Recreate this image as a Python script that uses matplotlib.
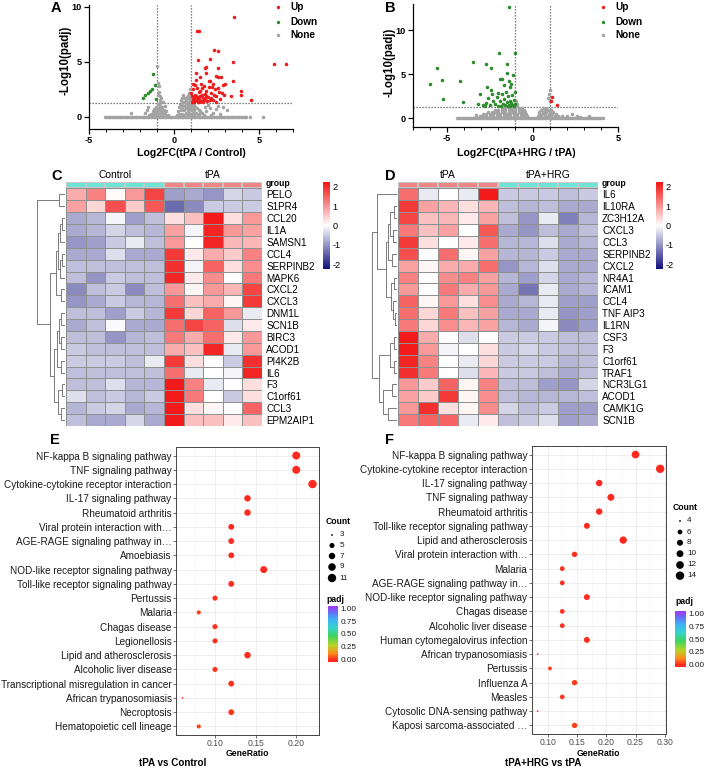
import numpy as np
import matplotlib
matplotlib.use('Agg')
import matplotlib.pyplot as plt
from matplotlib.colors import LinearSegmentedColormap, ListedColormap
from matplotlib.ticker import MultipleLocator

plt.rcParams['font.family'] = ['Liberation Sans', 'DejaVu Sans']
plt.rcParams['axes.unicode_minus'] = False

# ======================= DATA =======================
# ---- Panel A volcano (log2FC, -log10 padj) ----
a_up = [(3.53, 9.06), (1.33, 7.8), (1.49, 7.8), (2.35, 6.09), (2.59, 6.0), (1.41, 5.18), (2.12, 5.27),
        (3.45, 5.0), (5.86, 4.79), (6.57, 4.79), (1.80, 4.42), (1.88, 4.5), (2.59, 4.42), (1.27, 3.97),
        (1.88, 4.0), (2.47, 3.7), (2.59, 3.65), (2.76, 3.6), (3.49, 3.3), (1.29, 3.4), (1.55, 3.6),
        (2.05, 3.3), (2.9, 2.9), (3.96, 2.4), (3.94, 2.0), (3.35, 1.9), (4.55, 1.55), (2.1, 3.3),
        (2.3, 3.0), (3.0, 3.0), (1.05, 1.4), (1.1, 1.6), (1.15, 1.8), (1.2, 1.45), (1.25, 2.0),
        (1.3, 1.55), (1.35, 1.7), (1.4, 1.4), (1.45, 2.3), (1.5, 1.6), (1.55, 1.9), (1.6, 1.45),
        (1.65, 2.6), (1.7, 1.7), (1.75, 1.5), (1.8, 2.1), (1.85, 1.6), (1.9, 2.4), (1.95, 1.45),
        (2.0, 1.8), (2.05, 2.7), (2.1, 1.55), (2.15, 2.2), (2.2, 1.7), (2.25, 2.7), (2.3, 1.5),
        (2.4, 2.5), (2.5, 1.9), (2.6, 2.6), (2.7, 1.6), (2.8, 2.2), (1.12, 2.5), (1.22, 2.9),
        (1.38, 2.6), (1.58, 3.0), (1.75, 2.8), (1.05, 1.9), (1.18, 1.35), (1.32, 1.9), (1.48, 1.35),
        (1.62, 2.0), (1.02, 2.2), (1.28, 1.5), (1.42, 1.85), (1.68, 1.38), (1.88, 1.9), (2.35, 2.0),
        (2.45, 1.4), (2.65, 2.3), (1.1, 3.0), (1.52, 2.4), (2.95, 2.0)]
a_down = [(-1.22, 3.9), (-1.31, 2.5), (-1.41, 2.4), (-1.51, 2.15), (-1.69, 2.0), (-1.82, 1.7),
          (-1.12, 2.9), (-1.05, 1.6)]
a_none_band_x = [-4.05, -3.95, -3.85, -3.75, -3.65, -3.55, -3.45, -3.35, -3.25, -3.15, -3.05, -2.95,
                 -2.85, -2.75, -2.65, -2.55, -2.45, -2.35, -2.25, -2.15, -2.05, -1.95, -1.85, -1.75,
                 -1.65, -1.55, -1.45, -1.35, -1.25, -1.15, -1.05, -0.95, -0.85, -0.75, -0.65, -0.55,
                 -0.45, -0.35, -0.25, -0.15, -0.05, 0.05, 0.15, 0.25, 0.35, 0.45, 0.55, 0.65, 0.75,
                 0.85, 0.95, 1.05, 1.15, 1.25, 1.35, 1.45, 1.55, 1.65, 1.75, 1.85, 1.95, 2.05, 2.15,
                 2.25, 2.35, 2.45, 2.55, 2.65, 2.75, 2.85, 2.95, 3.05, 3.15, 3.25, 3.35, 3.45, 3.55,
                 3.65, 3.75, 3.85, 3.95, 4.05, 4.15, 4.25, 4.5, 5.25]
a_none = [(-1.45, 0.15), (-1.35, 0.3), (-1.25, 0.5), (-1.15, 0.7), (-1.05, 0.9), (-0.95, 1.2),
          (-0.85, 1.5), (-0.75, 1.7), (-0.65, 1.4), (-0.55, 1.0), (-0.45, 0.5), (-0.38, 0.2),
          (-1.3, 0.15), (-1.2, 0.3), (-1.1, 0.45), (-1.0, 0.6), (-0.9, 0.8), (-0.8, 1.0), (-0.7, 0.9),
          (-0.6, 0.6), (-0.5, 0.3), (-1.1, 0.15), (-0.95, 0.3), (-0.85, 0.5), (-0.75, 0.65),
          (-0.65, 0.4), (-0.55, 0.15), (-0.8, 1.25), (-0.9, 0.15), (-0.7, 0.2), (-1.0, 0.35),
          (-0.75, 0.35), (-1.0, 4.6), (-0.97, 3.1), (-0.9, 2.8), (-0.88, 2.3), (-0.95, 2.0),
          (-0.85, 1.9), (-1.6, 0.6), (-1.7, 0.35), (-1.55, 0.9), (-2.55, 0.33),
          (0.2, 0.2), (0.25, 0.5), (0.3, 0.9), (0.35, 1.2), (0.4, 1.5), (0.45, 1.7), (0.55, 1.8),
          (0.65, 1.75), (0.75, 1.8), (0.85, 1.7), (0.95, 1.5), (1.05, 1.3), (1.15, 1.1), (1.25, 0.9),
          (1.35, 0.8), (1.45, 0.6), (1.55, 0.5), (1.65, 0.35), (1.75, 0.2), (0.3, 0.3), (0.4, 0.6),
          (0.4, 1.0), (0.5, 0.3), (0.5, 0.7), (0.5, 1.1), (0.5, 1.4), (0.6, 0.2), (0.6, 0.6),
          (0.6, 1.0), (0.6, 1.4), (0.7, 0.4), (0.7, 0.8), (0.7, 1.2), (0.7, 1.5), (0.8, 0.2),
          (0.8, 0.6), (0.8, 1.0), (0.8, 1.4), (0.9, 0.4), (0.9, 0.8), (0.9, 1.2), (1.0, 0.2),
          (1.0, 0.6), (1.0, 1.0), (1.1, 0.4), (1.1, 0.8), (1.2, 0.2), (1.2, 0.6), (1.3, 0.4),
          (1.4, 0.2), (1.5, 0.3), (1.9, 0.5), (2.1, 0.8), (2.3, 0.4), (2.5, 0.7), (2.7, 0.3),
          (2.9, 0.9), (1.8, 0.9), (2.0, 1.1), (2.2, 0.2), (2.6, 1.0), (3.1, 0.6), (0.95, 2.5),
          (0.88, 2.1), (0.97, 1.8), (0.8, 1.9), (0.9, 2.2), (0.55, 2.0)]

# ---- Panel B volcano ----
b_up = [(1.11, 2.42), (1.44, 1.55), (1.08, 2.0)]
b_down = [(-1.40, 12.6), (-1.97, 7.35), (-1.03, 7.35), (-3.47, 6.33), (-2.75, 6.2), (-1.48, 6.2),
          (-5.61, 5.64), (-2.42, 5.64), (-1.52, 5.07), (-5.28, 4.32), (-4.27, 4.27), (-6.0, 3.86),
          (-1.9, 4.5), (-1.8, 4.5), (-1.37, 4.2), (-5.24, 2.12), (-4.07, 1.86), (-3.1, 2.8),
          (-2.69, 3.56), (-2.46, 3.2), (-2.9, 1.5), (-2.7, 1.7), (-2.5, 1.45), (-2.3, 2.0),
          (-2.2, 1.6), (-2.1, 2.4), (-2.0, 1.4), (-1.9, 1.9), (-1.8, 2.7), (-1.75, 1.6), (-1.7, 2.2),
          (-1.6, 1.45), (-1.55, 3.0), (-1.5, 1.8), (-1.45, 2.5), (-1.4, 1.5), (-1.35, 2.0),
          (-1.3, 3.5), (-1.25, 1.7), (-1.2, 2.6), (-1.15, 1.45), (-1.1, 2.1), (-1.05, 1.6),
          (-1.02, 3.0), (-2.6, 2.3), (-2.4, 2.8), (-1.65, 3.8), (-1.25, 3.9), (-1.15, 4.9),
          (-2.0, 2.9), (-2.8, 1.4), (-3.2, 1.6), (-1.85, 1.4), (-1.1, 1.35), (-1.3, 1.4), (-1.45, 1.35)]
b_none_band_x = [-4.4, -4.3, -4.2, -4.1, -4.0, -3.9, -3.8, -3.7, -3.6, -3.5, -3.4, -3.3, -3.2, -3.1,
                 -3.0, -2.9, -2.8, -2.7, -2.6, -2.5, -2.4, -2.3, -2.2, -2.1, -2.0, -1.9, -1.8, -1.7,
                 -1.6, -1.5, -1.4, -1.3, -1.2, -1.1, -1.0, -0.9, -0.8, -0.7, -0.6, -0.5, -0.4, -0.3,
                 -0.2, -0.1, 0.0, 0.1, 0.2, 0.3, 0.4, 0.5, 0.6, 0.7, 0.8, 0.9, 1.0, 1.1, 1.2, 1.3,
                 1.4, 1.5, 1.6, 1.7, 1.8, 1.9, 2.0, 2.1, 2.2, 2.3, 2.4, 2.5, 2.6, 2.7, 2.8, 2.9, 3.0,
                 3.1, 3.2, 3.3, 3.4, 3.5, 3.6, 3.7, 3.8, 3.9, 4.0, 4.15]
b_none = [(-3.1, 0.2), (-2.9, 0.2), (-2.7, 0.2), (-2.5, 0.2), (-2.3, 0.2), (-2.1, 0.2), (-1.9, 0.2),
          (-1.7, 0.2), (-1.5, 0.2), (-1.3, 0.2), (-1.1, 0.2), (-0.9, 0.2), (-0.7, 0.2), (-0.5, 0.2),
          (-0.35, 0.2), (-2.9, 0.45), (-2.7, 0.45), (-2.5, 0.45), (-2.3, 0.45), (-2.1, 0.45),
          (-1.9, 0.45), (-1.7, 0.45), (-1.5, 0.45), (-1.3, 0.45), (-1.1, 0.45), (-0.9, 0.45),
          (-0.7, 0.45), (-0.5, 0.45), (-0.4, 0.45), (-2.6, 0.7), (-2.4, 0.7), (-2.2, 0.7), (-2.0, 0.7),
          (-1.8, 0.7), (-1.6, 0.7), (-1.4, 0.7), (-1.2, 0.7), (-1.0, 0.7), (-0.8, 0.7), (-0.6, 0.7),
          (-0.45, 0.7), (-2.2, 0.95), (-2.0, 0.95), (-1.8, 0.95), (-1.6, 0.95), (-1.4, 0.95),
          (-1.2, 0.95), (-1.0, 0.95), (-0.8, 0.95), (-0.6, 0.95), (-0.5, 0.95), (-1.8, 1.2),
          (-1.6, 1.2), (-1.4, 1.2), (-1.2, 1.2), (-1.0, 1.2), (-0.8, 1.2), (-0.6, 1.2), (-1.3, 1.4),
          (-1.1, 1.4), (-0.9, 1.4), (-0.95, 2.0), (-0.9, 1.6), (-3.3, 0.35),
          (0.3, 0.2), (0.5, 0.2), (0.7, 0.2), (0.9, 0.2), (1.1, 0.2), (1.3, 0.2), (1.5, 0.2),
          (1.7, 0.2), (0.35, 0.45), (0.55, 0.45), (0.75, 0.45), (0.95, 0.45), (1.15, 0.45),
          (1.35, 0.45), (0.4, 0.7), (0.6, 0.7), (0.8, 0.7), (1.0, 0.7), (1.2, 0.7), (0.5, 0.95),
          (0.7, 0.95), (0.9, 0.95), (1.05, 0.95), (0.6, 1.2), (0.8, 1.2), (1.0, 3.2), (0.95, 2.8),
          (0.9, 2.3), (1.0, 1.9), (2.0, 0.3), (2.3, 0.5), (2.6, 0.2), (2.8, 0.17), (3.3, 0.2)]

# ---- Panel C heatmap ----
c_genes = ['PELO', 'S1PR4', 'CCL20', 'IL1A', 'SAMSN1', 'CCL4', 'SERPINB2', 'MAPK6', 'CXCL2', 'CXCL3',
           'DNM1L', 'SCN1B', 'BIRC3', 'ACOD1', 'PI4K2B', 'IL6', 'F3', 'C1orf61', 'CCL3', 'EPM2AIP1']
c_col_groups = ['Control'] * 5 + ['tPA'] * 5
c_values = [
    [0.8, 1.2, 0.05, 1.0, 1.8, -0.9, -0.8, -1.0, -0.4, -0.5],
    [0.9, 0.4, 1.7, 0.5, 1.6, -1.4, -1.1, -0.5, -0.5, -0.5],
    [-0.8, -0.7, -0.1, -0.9, -0.6, 0.3, 0.6, 2.2, 0.3, 1.0],
    [-0.8, -0.7, -0.4, -0.6, -0.7, 0.9, -0.1, 2.1, 1.0, 0.9],
    [-1.0, -0.9, -0.5, -0.2, -0.6, 1.0, 0.0, 2.1, 0.7, 0.7],
    [-0.8, -0.8, -0.3, -0.8, -0.8, 1.9, 0.2, 0.8, 0.5, 1.2],
    [-0.6, -0.6, -0.6, -0.6, -0.6, 2.0, -0.1, 1.5, 0.3, 1.1],
    [-0.6, -1.0, -0.5, -0.6, -0.6, 2.1, 0.2, 1.1, 0.0, 1.3],
    [-1.1, -0.6, -0.5, -1.1, -0.6, 1.0, 0.1, 1.0, 0.7, 1.8],
    [-1.0, -0.8, -0.5, -0.7, -0.7, 1.4, 0.6, 0.8, 0.1, 1.9],
    [-0.6, -0.6, -0.9, -0.5, -0.7, 1.9, 0.4, 1.5, 1.0, -0.2],
    [-0.8, -0.6, -0.05, -0.8, -0.8, 1.4, 1.8, 1.5, -0.3, 0.2],
    [-0.6, -0.6, -1.0, -0.7, -0.6, 1.3, 0.8, 1.4, 0.2, 1.0],
    [-0.5, -0.6, -0.6, -0.6, -0.6, 0.8, 0.6, 2.1, -0.2, 1.0],
    [-0.5, -0.5, -0.5, -0.6, -0.2, 1.9, 0.3, 0.0, -0.5, 2.0],
    [-0.6, -0.6, -0.6, -0.6, -0.6, 1.4, -0.2, 0.0, -0.1, 2.1],
    [-0.6, -0.6, -0.3, -0.7, -0.7, 2.2, 1.2, -0.2, 0.0, 0.3],
    [-0.3, -0.6, -0.5, -0.7, -0.5, 2.2, 1.3, 0.0, -0.5, 0.3],
    [-0.7, -0.5, -0.4, -0.8, -0.7, 2.2, 0.3, 0.1, 0.0, 1.5],
    [-0.6, -0.8, -0.8, -0.4, -0.8, 2.2, 0.6, 0.6, 0.2, 0.6],
]
# row dendrogram merges: (child_a, child_b, height); leaves 0..19, new nodes 20..
c_merges = [(0, 1, 0.21), (2, 3, 0.10), (21, 4, 0.16), (5, 6, 0.10), (23, 7, 0.16), (22, 24, 0.22),
            (8, 9, 0.14), (25, 26, 0.30), (10, 11, 0.14), (12, 13, 0.12), (28, 29, 0.20),
            (14, 15, 0.14), (30, 31, 0.28), (16, 17, 0.10), (18, 19, 0.14), (33, 34, 0.22),
            (32, 35, 0.38), (27, 36, 0.52), (20, 37, 1.0)]

# ---- Panel D heatmap ----
d_genes = ['IL6', 'IL10RA', 'ZC3H12A', 'CXCL3', 'CCL3', 'SERPINB2', 'CXCL2', 'NR4A1', 'ICAM1', 'CCL4',
           'TNF AIP3', 'IL1RN', 'CSF3', 'F3', 'C1orf61', 'TRAF1', 'NCR3LG1', 'ACOD1', 'CAMK1G', 'SCN1B']
d_col_groups = ['tPA'] * 5 + ['tPA+HRG'] * 5
d_values = [
    [1.4, -0.2, 0.0, -0.2, 2.2, -0.5, -0.5, -0.5, -0.6, -0.5],
    [1.9, 0.9, 0.7, 0.3, 0.7, -0.6, -0.7, -0.6, -0.8, -0.8],
    [1.8, 0.6, 0.7, 0.2, 0.9, -0.6, -1.0, -0.2, -1.2, -0.7],
    [1.3, 0.6, 0.9, 0.0, 1.6, -0.8, -1.0, -0.6, -0.8, -0.6],
    [1.9, 0.3, 0.0, 0.2, 1.4, -0.7, -0.7, -0.3, -0.8, -0.7],
    [1.7, 0.0, 1.4, 0.1, 0.9, -0.7, -0.7, -0.5, -0.8, -0.8],
    [0.9, 0.1, 0.8, 0.8, 1.4, -1.0, -0.7, -0.3, -0.8, -0.8],
    [1.2, 0.0, 1.1, 1.2, 0.9, -0.7, -0.9, -0.4, -0.8, -0.7],
    [1.0, 0.0, 1.3, 0.8, 1.0, -0.8, -1.3, -0.2, -0.8, -0.7],
    [1.5, 0.1, 1.0, 0.3, 1.1, -0.8, -0.7, -0.2, -0.9, -0.9],
    [1.4, 0.4, 1.3, 0.6, 0.9, -0.8, -0.8, -0.2, -1.0, -0.9],
    [1.3, 0.4, 1.1, 0.7, 0.9, -0.7, -0.8, -0.1, -1.1, -0.9],
    [2.2, 0.8, 0.0, -0.3, 0.0, -0.5, -0.5, -0.5, -0.6, -0.6],
    [2.2, 1.0, -0.1, 0.0, 0.3, -0.5, -0.4, -0.5, -0.6, -0.6],
    [2.1, 1.2, 0.0, -0.2, 0.4, -0.5, -0.5, -0.5, -0.7, -0.6],
    [2.0, 1.3, 0.0, -0.3, 0.7, -0.5, -0.5, -0.6, -0.8, -0.6],
    [1.0, 0.5, 1.5, 0.1, 1.2, -0.6, -0.6, -0.9, -1.0, -0.4],
    [0.9, 0.5, 1.9, 0.1, 1.1, -0.6, -0.7, -0.7, -0.7, -0.6],
    [1.0, 2.0, 0.3, 0.1, 1.1, -0.4, -0.6, -0.5, -0.9, -0.9],
    [1.3, 1.5, 1.5, -0.2, 0.2, -0.6, -0.5, -0.3, -0.9, -0.8],
]
d_merges = [(1, 2, 0.12), (3, 4, 0.14), (20, 21, 0.25), (5, 6, 0.20), (22, 23, 0.35), (7, 8, 0.10),
            (10, 11, 0.08), (9, 26, 0.14), (25, 27, 0.22), (24, 28, 0.42), (0, 29, 0.80),
            (12, 13, 0.10), (14, 15, 0.10), (31, 32, 0.25), (16, 17, 0.20), (18, 19, 0.35),
            (34, 35, 0.55), (33, 36, 0.70), (30, 37, 1.0)]

# ---- Panel E KEGG dot plot ----
e_paths = ['NF-kappa B signaling pathway', 'TNF signaling pathway',
           'Cytokine-cytokine receptor interaction', 'IL-17 signaling pathway', 'Rheumatoid arthritis',
           'Viral protein interaction with…', 'AGE-RAGE signaling pathway in…', 'Amoebiasis',
           'NOD-like receptor signaling pathway', 'Toll-like receptor signaling pathway', 'Pertussis',
           'Malaria', 'Chagas disease', 'Legionellosis', 'Lipid and atherosclerosis',
           'Alcoholic liver disease', 'Transcriptional misregulation in cancer',
           'African trypanosomiasis', 'Necroptosis', 'Hematopoietic cell lineage']
e_ratio = [0.20, 0.20, 0.22, 0.14, 0.14, 0.12, 0.12, 0.12, 0.16, 0.12, 0.10, 0.08, 0.10, 0.10, 0.14,
           0.10, 0.12, 0.06, 0.12, 0.08]
e_count = [10, 10, 11, 7, 7, 6, 6, 6, 8, 6, 5, 4, 5, 5, 7, 5, 6, 3, 6, 4]
e_padj = [0.0001, 0.0001, 0.0002, 0.001, 0.001, 0.003, 0.004, 0.004, 0.002, 0.005, 0.008, 0.02,
          0.01, 0.01, 0.006, 0.012, 0.01, 0.03, 0.012, 0.03]
e_count_legend = [3, 5, 7, 9, 11]

# ---- Panel F KEGG dot plot ----
f_paths = ['NF-kappa B signaling pathway', 'Cytokine-cytokine receptor interaction',
           'IL-17 signaling pathway', 'TNF signaling pathway', 'Rheumatoid arthritis',
           'Toll-like receptor signaling pathway', 'Lipid and atherosclerosis',
           'Viral protein interaction with…', 'Malaria', 'AGE-RAGE signaling pathway in…',
           'NOD-like receptor signaling pathway', 'Chagas disease', 'Alcoholic liver disease',
           'Human cytomegalovirus infection', 'African trypanosomiasis', 'Pertussis', 'Influenza A',
           'Measles', 'Cytosolic DNA-sensing pathway', 'Kaposi sarcoma-associated …']
f_ratio = [0.250, 0.292, 0.188, 0.208, 0.188, 0.167, 0.229, 0.146, 0.125, 0.125, 0.167, 0.125, 0.125,
           0.167, 0.083, 0.104, 0.146, 0.125, 0.083, 0.146]
f_count = [12, 14, 9, 10, 9, 8, 11, 7, 6, 6, 8, 6, 6, 8, 4, 5, 7, 6, 4, 7]
f_padj = [0.0001, 0.0001, 0.0005, 0.0005, 0.001, 0.002, 0.002, 0.004, 0.006, 0.006, 0.004, 0.008,
          0.008, 0.01, 0.03, 0.03, 0.02, 0.02, 0.04, 0.03]
f_count_legend = [4, 6, 8, 10, 12, 14]

# ======================= STYLE / LAYOUT =======================
W, H = 705, 768
fig = plt.figure(figsize=(W / 100, H / 100), dpi=100)


def px_axes(l, t, r, b, **kw):
    return fig.add_axes([l / W, 1 - b / H, (r - l) / W, (b - t) / H], **kw)


RED = '#EE1C1C'
GREEN = '#2E8B2E'
GRAY = '#A3A3A3'
HM_CMAP = LinearSegmentedColormap.from_list('hm', ['#12127E', '#FFFFFF', '#F21616'])
PADJ_CMAP = LinearSegmentedColormap.from_list(
    'padj', [(0, '#FF2A1F'), (0.12, '#FF8C1A'), (0.28, '#B5D629'), (0.45, '#3FD35B'),
             (0.6, '#35D6C8'), (0.75, '#3DB8F5'), (0.88, '#5B7CF7'), (1.0, '#9A3DF5')])
GROUP_COLORS = {'Control': '#6EE3D6', 'tPA+HRG': '#6EE3D6', 'tPA': '#F08585'}

# overlay for annotations in pixel coordinates
ov = fig.add_axes([0, 0, 1, 1], zorder=20)
ov.set_xlim(0, W)
ov.set_ylim(H, 0)
ov.axis('off')
ov.patch.set_alpha(0)


def volcano(rect, up, down, none, band, xlim, ylim, yticks):
    ax = px_axes(*rect)
    ax.patch.set_alpha(0)
    ms = 6.5
    ax.scatter(band, np.zeros(len(band)), s=ms, c=GRAY, lw=0, zorder=2)
    nx, ny = zip(*none)
    ax.scatter(nx, ny, s=ms, c=GRAY, lw=0, zorder=2)
    dx, dy = zip(*down)
    ax.scatter(dx, dy, s=ms, c=GREEN, lw=0, zorder=3)
    ux, uy = zip(*up)
    ax.scatter(ux, uy, s=ms, c=RED, lw=0, zorder=3)
    for v in (-1, 1):
        ax.axvline(v, color='#555555', lw=0.9, ls=(0, (1, 1.4)), zorder=1)
    ax.axhline(-np.log10(0.05), color='#555555', lw=0.9, ls=(0, (1, 1.4)), zorder=1)
    ax.set_xlim(*xlim)
    ax.set_ylim(*ylim)
    for s in ('top', 'right'):
        ax.spines[s].set_visible(False)
    for s in ('left', 'bottom'):
        ax.spines[s].set_linewidth(0.9)
    ax.set_xticks([-5, 0, 5])
    ax.set_yticks(yticks)
    ax.xaxis.set_minor_locator(MultipleLocator(1))
    ax.tick_params(which='major', length=3.5, width=0.9, labelsize=6.6, pad=1.5)
    ax.tick_params(which='minor', length=2, width=0.7)
    for t in ax.get_xticklabels() + ax.get_yticklabels():
        t.set_fontweight('bold')
    return ax


volcano((89, 4.8, 293, 129), a_up, a_down, a_none, a_none_band_x, (-5, 7.0), (-1.1, 10.2), [0, 5, 10])
volcano((413, 3.6, 618, 127), b_up, b_down, b_none, b_none_band_x, (-7, 5), (-1.0, 13.0), [0, 5, 10])

for mx, tx in [(278, 290), (603, 615)]:
    for yy, lab, col in [(7, 'Up', RED), (22, 'Down', GREEN), (35, 'None', GRAY)]:
        ov.scatter([mx], [yy], s=6, c=col, lw=0)
        ov.text(tx, yy, lab, fontsize=7.2, fontweight='bold', va='center', ha='left')

ov.text(66, 60, '-Log10(padj)', rotation=90, fontsize=8.3, fontweight='bold', ha='center', va='center')
ov.text(389, 62, '-Log10(padj)', rotation=90, fontsize=8.3, fontweight='bold', ha='center', va='center')
ov.text(191, 153, 'Log2FC(tPA / Control)', fontsize=7.6, fontweight='bold', ha='center', va='center')
ov.text(516, 153, 'Log2FC(tPA+HRG / tPA)', fontsize=7.6, fontweight='bold', ha='center', va='center')


def dendrogram(rect, merges, n):
    ax = px_axes(*rect)
    pos = {i: i + 0.5 for i in range(n)}
    hgt = {i: 0.0 for i in range(n)}
    for k, (a, b, h) in enumerate(merges):
        ax.plot([hgt[a], h, h, hgt[b]], [pos[a], pos[a], pos[b], pos[b]], color='#666666', lw=0.6,
                solid_capstyle='butt')
        pos[n + k] = (pos[a] + pos[b]) / 2
        hgt[n + k] = h
    ax.set_xlim(1.0, 0)
    ax.set_ylim(n, 0)
    ax.axis('off')


def heatmap(rect, values, genes, col_groups, cb_rect, dend_rect, merges):
    l, t, r, b = rect
    vals = np.array(values)
    n, m = vals.shape
    ax = px_axes(l, t, r, b)
    ax.pcolormesh(vals, cmap=HM_CMAP, vmin=-2.25, vmax=2.25, edgecolors='#909090', linewidth=0.45)
    ax.set_xlim(0, m)
    ax.set_ylim(n, 0)
    ax.set_yticks(np.arange(n) + 0.5)
    ax.set_yticklabels(genes, fontsize=7.1)
    ax.yaxis.tick_right()
    ax.tick_params(length=0, pad=3)
    ax.set_xticks([])
    for s in ax.spines.values():
        s.set_visible(False)
    # annotation bar
    gax = px_axes(l, 181.6, r, 187.6)
    names = list(dict.fromkeys(col_groups))
    codes = np.array([[names.index(g) for g in col_groups]])
    gax.pcolormesh(codes, cmap=ListedColormap([GROUP_COLORS[nm] for nm in names]), vmin=-0.5,
                   vmax=len(names) - 0.5, edgecolors='#C8C8C8', linewidth=0.3)
    gax.set_xlim(0, m)
    gax.axis('off')
    for nm in names:
        idx = [i for i, g in enumerate(col_groups) if g == nm]
        xc = l + (r - l) * (np.mean(idx) + 0.5) / m
        ov.text(xc, 175.5, nm, fontsize=7.4, ha='center', va='center')
    ov.text(r + 4, 184, 'group', fontsize=6.2, fontweight='bold', ha='left', va='center')
    # colorbar
    cax = px_axes(*cb_rect)
    grad = np.linspace(2.25, -2.25, 200)[:, None]
    cax.imshow(grad, cmap=HM_CMAP, vmin=-2.25, vmax=2.25, aspect='auto', extent=[0, 1, -2.25, 2.25])
    cax.set_xticks([])
    cax.yaxis.tick_right()
    cax.set_yticks([-2, -1, 0, 1, 2])
    cax.set_yticklabels(['-2', '-1', '0', '1', '2'], fontsize=6.6)
    cax.tick_params(length=0, pad=2)
    for s in cax.spines.values():
        s.set_visible(False)
    dendrogram(dend_rect, merges, n)


heatmap((66, 188.4, 262, 426), c_values, c_genes, c_col_groups, (323, 182, 330, 269),
        (37, 188.4, 64.5, 426), c_merges)
heatmap((398, 188.4, 598, 426), d_values, d_genes, d_col_groups, (656, 182, 662.5, 269),
        (371.5, 188.4, 396.5, 426), d_merges)


def dot_size(c, cmin, cmax):
    t = (c - cmin) / (cmax - cmin)
    diam_px = 1.8 + 6.6 * np.sqrt(t)
    return (diam_px * 0.72) ** 2


def dotplot(rect, paths, ratios, counts, padjs, xlim, xticks, xminor, cmin, cmax):
    ax = px_axes(*rect)
    n = len(paths)
    ypos = np.arange(n)
    sizes = [dot_size(c, cmin, cmax) for c in counts]
    ax.scatter(ratios, ypos, s=sizes, c=padjs, cmap=PADJ_CMAP, vmin=0, vmax=1, lw=0, zorder=3)
    ax.set_ylim(n - 1 + 0.6, -0.6)
    ax.set_xlim(*xlim)
    ax.set_yticks(ypos)
    ax.set_yticklabels(paths, fontsize=7.2, color='#1A1A1A')
    ax.set_xticks(xticks)
    ax.set_xticklabels([f'{v:.2f}' for v in xticks], fontsize=6.2, color='#4D4D4D')
    ax.set_xticks(xminor, minor=True)
    ax.grid(which='major', color='#EBEBEB', lw=0.6)
    ax.grid(which='minor', axis='x', color='#F4F4F4', lw=0.4)
    ax.set_axisbelow(True)
    ax.tick_params(which='major', length=2.2, width=0.5, color='#333333', pad=1.0)
    ax.tick_params(which='minor', length=0)
    for s in ax.spines.values():
        s.set_color('#444444')
        s.set_linewidth(0.7)
    l, t, r, b = rect
    ov.text((l + r) / 2, 753.5, 'GeneRatio', fontsize=6.2, fontweight='bold', ha='center',
            va='center')
    return ax


dotplot((176, 447, 319, 735), e_paths, e_ratio, e_count, e_padj, (0.052, 0.228), [0.10, 0.15, 0.20],
        [0.075, 0.125, 0.175, 0.225], 3, 11)
dotplot((531.7, 446, 666, 734), f_paths, f_ratio, f_count, f_padj, (0.0729, 0.302),
        [0.10, 0.15, 0.20, 0.25, 0.30], [0.075, 0.125, 0.175, 0.225, 0.275], 4, 14)
ov.text(173, 763, 'tPA vs Control', fontsize=7.1, fontweight='bold', ha='center', va='center')
ov.text(543, 763, 'tPA+HRG vs tPA', fontsize=7.1, fontweight='bold', ha='center', va='center')


def dot_legends(title_xy, mx, tx, ys, counts, cmin, cmax, padj_xy, cb_rect):
    ov.text(title_xy[0], title_xy[1], 'Count', fontsize=6.2, fontweight='bold', ha='left', va='center')
    ov.scatter([mx] * len(ys), ys, s=[dot_size(c, cmin, cmax) for c in counts], c='black', lw=0)
    for yy, c in zip(ys, counts):
        ov.text(tx, yy, str(c), fontsize=5.9, ha='left', va='center', color='#1A1A1A')
    ov.text(padj_xy[0], padj_xy[1], 'padj', fontsize=6.2, fontweight='bold', ha='left', va='center')
    cax = px_axes(*cb_rect)
    grad = np.linspace(1.04, -0.04, 200)[:, None]
    cax.imshow(grad, cmap=PADJ_CMAP, vmin=0, vmax=1, aspect='auto', extent=[0, 1, -0.04, 1.04])
    cax.set_xticks([])
    cax.yaxis.tick_right()
    cax.set_yticks([0, 0.25, 0.5, 0.75, 1.0])
    cax.set_yticklabels(['0.00', '0.25', '0.50', '0.75', '1.00'], fontsize=5.9, color='#1A1A1A')
    cax.tick_params(length=0, pad=2)
    for s in cax.spines.values():
        s.set_visible(False)


dot_legends((326, 521.5), 332, 339.5, [535, 545.5, 556, 567, 578], e_count_legend, 3, 11,
            (326, 599), (328, 606, 338, 662))
dot_legends((673, 508), 680, 687, [521, 532, 542.7, 553.7, 565, 575.7], f_count_legend, 4, 14,
            (675, 602), (675, 611, 685.5, 667))

for lab, x, y in [('A', 56, 8), ('B', 390, 8), ('C', 57, 176), ('D', 390, 176), ('E', 55, 440),
                  ('F', 389, 440)]:
    ov.text(x, y, lab, fontsize=10.5, fontweight='bold', ha='center', va='center')

fig.savefig('out.png', dpi=100)
